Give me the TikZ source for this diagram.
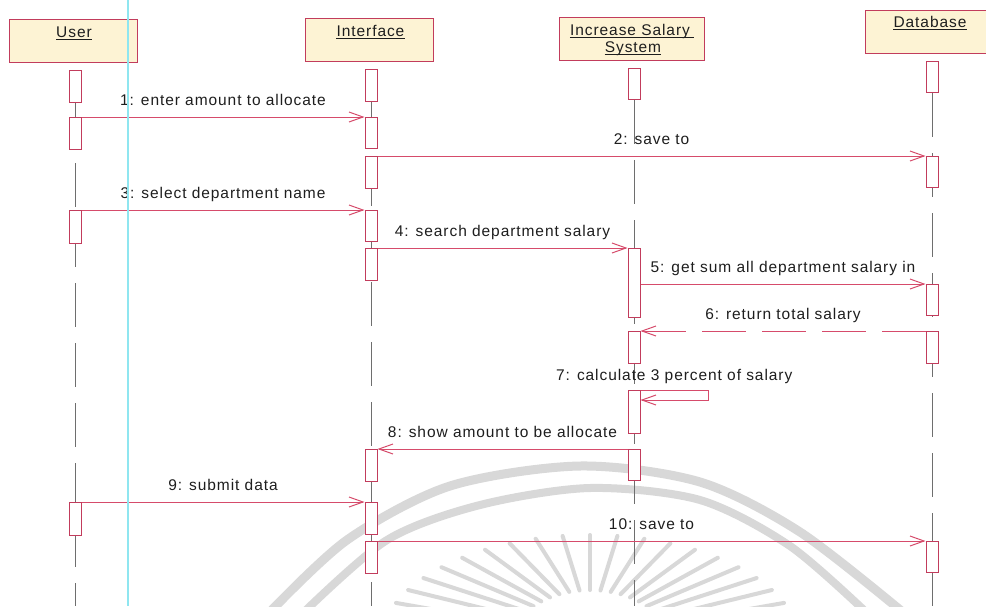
\documentclass[tikz,border=0pt]{standalone}
\usepackage{fontspec}
\setmainfont{Liberation Sans}[LetterSpace=6]
\usetikzlibrary{arrows.meta}

\definecolor{msgred}{HTML}{D64B6B}
\definecolor{boxred}{HTML}{C23C5C}
\definecolor{hdrfill}{HTML}{FDF3D4}
\definecolor{lifegray}{HTML}{6E6E6E}
\definecolor{inkcol}{HTML}{1E1E1E}
\definecolor{markgray}{HTML}{D8D8D8}
\definecolor{guidecyan}{HTML}{8FE6F0}

\newcommand\lblfont{\fontsize{15.5}{18}\selectfont\color{inkcol}}

\tikzset{
  lifeline/.style={draw=lifegray, line width=0.9pt, dash pattern=on 44pt off 16pt},
  act/.style={draw=boxred, fill=white, line width=1pt, minimum width=12pt,
              inner sep=0pt, anchor=north},
  hdr/.style={draw=boxred, fill=hdrfill, line width=1pt, inner sep=0pt},
  hdrtxt/.style={anchor=base, inner sep=0pt, font=\lblfont},
  uline/.style={draw=inkcol, line width=0.9pt},
  msg/.style={draw=msgred, line width=1pt,
              -{Straight Barb[length=14pt,width=10pt]}},
  ret/.style={msg, dash pattern=on 44pt off 16pt},
  lbl/.style={anchor=base, inner sep=0pt, font=\lblfont, yshift=11.5pt},
  sealstroke/.style={draw=markgray, line cap=round},
}

\begin{document}
\begin{tikzpicture}[x=1pt,y=-1pt]
\useasboundingbox (0,0) rectangle (986,606);
\fill[white] (0,0) rectangle (986,606);

% faint seal printed behind the chart
\begin{scope}
  \clip (0,0) rectangle (986,606);
  \draw[sealstroke, line width=9pt] plot[smooth] coordinates
    {(268,614) (347,540) (450,486) (580,466) (700,482) (800,532) (905,614)};
  \draw[sealstroke, line width=8pt] plot[smooth] coordinates
    {(302,614) (387,540) (480,505) (590,488) (700,500) (790,546) (868,614)};
  \foreach \t in {15,22.5,...,165}
    \draw[sealstroke, line width=4pt]
      ({590+80*cos(\t)},{645-55*sin(\t)}) -- ({590+210*cos(\t)},{645-110*sin(\t)});
\end{scope}

% lifeline ends
\coordinate (uend) at (75,606);
\coordinate (iend) at (371,606);
\coordinate (send) at (634,606);
\coordinate (dend) at (932,606);

% object headers
\node[hdr, minimum width=128pt, minimum height=43pt] (huser) at (73,40.5) {};
\node[hdr, minimum width=128pt, minimum height=43pt] (hint) at (369,39.5) {};
\node[hdr, minimum width=145pt, minimum height=43pt] (hinc) at (631.5,38.5) {};
\node[hdr, minimum width=129pt, minimum height=43pt] (hdb) at (929.5,31.5) {};

\node[hdrtxt] (tuser) at (74,37) {User};
\node[hdrtxt] (tint) at (370.5,36) {Interface};
\node[hdrtxt] (tinc1) at (630,35) {Increase Salary};
\node[hdrtxt] (tinc2) at (633,52) {System};
\node[hdrtxt] (tdb) at (930,27) {Database};

\draw[uline] ([yshift=-2pt]tuser.base west) -- ([yshift=-2pt]tuser.base east);
\draw[uline] ([yshift=-2pt]tint.base west) -- ([yshift=-2pt]tint.base east);
\draw[uline] ([yshift=-2pt]tinc1.base west) -- ([xshift=4pt,yshift=-2pt]tinc1.base east);
\draw[uline] ([yshift=-2pt]tinc2.base west) -- ([yshift=-2pt]tinc2.base east);
\draw[uline] ([yshift=-2pt]tdb.base west) -- ([yshift=-2pt]tdb.base east);

% first activation bars, anchored at their tops
\node[act, minimum height=32pt] (u1) at (75,70) {};
\node[act, minimum height=32pt] (i1) at (371,69) {};
\node[act, minimum height=31pt] (s1) at (634,68) {};
\node[act, minimum height=31pt] (d1) at (932,61) {};

% lifelines, under the later bars
\draw[lifeline] (u1.south) -- (uend);
\draw[lifeline] (i1.south) -- (iend);
\draw[lifeline] (s1.south) -- (send);
\draw[lifeline] (d1.south) -- (dend);

\node[act, minimum height=32pt] (u2) at (75,117) {};
\node[act, minimum height=31pt] (i2) at (371,117) {};
\node[act, minimum height=32pt] (i3) at (371,156) {};
\node[act, minimum height=31pt] (d2) at (932,156) {};
\node[act, minimum height=33pt] (u3) at (75,210) {};
\node[act, minimum height=31pt] (i4) at (371,210) {};
\node[act, minimum height=32pt] (i5) at (371,248) {};
\node[act, minimum height=69pt] (s2) at (634,248) {};
\node[act, minimum height=31pt] (d3) at (932,284) {};
\node[act, minimum height=32pt] (d4) at (932,331) {};
\node[act, minimum height=32pt] (s3) at (634,331) {};
\node[act, minimum height=43pt] (s4) at (634,390) {};
\node[act, minimum height=31pt] (s5) at (634,449) {};
\node[act, minimum height=32pt] (i6) at (371,449) {};
\node[act, minimum height=33pt] (u4) at (75,502) {};
\node[act, minimum height=32pt] (i7) at (371,502) {};
\node[act, minimum height=32pt] (i8) at (371,541) {};
\node[act, minimum height=31pt] (d5) at (932,541) {};

\coordinate (l7) at (708,400);

% messages
\draw[msg] (u2.north east) -- node[lbl, midway] {1: enter amount to allocate} (i2.north west);
\draw[msg] (i3.north east) -- node[lbl, midway] {2: save to} (d2.north west);
\draw[msg] (u3.north east) -- node[lbl, midway] {3: select department name} (i4.north west);
\draw[msg] (i5.north east) -- node[lbl, midway] {4: search department salary} (s2.north west);
\draw[msg] (s2.east |- d3.north) -- node[lbl, midway] {5: get sum all department salary in} (d3.north west);
\draw[ret] (d4.north west) -- node[lbl, midway] {6: return total salary} (s3.north east);
\draw[msg] (s4.north east) -| node[lbl, pos=0.25, yshift=-1.5pt] {7: calculate 3 percent of salary} (l7) -- (s4.east |- l7);
\draw[msg] (s5.north west) -- node[lbl, midway] {8: show amount to be allocate} (i6.north east);
\draw[msg] (u4.north east) -- node[lbl, midway] {9: submit data} (i7.north west);
\draw[msg] (i8.north east) -- node[lbl, midway] {10: save to} (d5.north west);

% margin guide
\coordinate (gtop) at (128,0);
\coordinate (gbot) at (128,606);
\draw[guidecyan, line width=2.5pt] (gtop) -- (gbot);
\end{tikzpicture}
\end{document}
